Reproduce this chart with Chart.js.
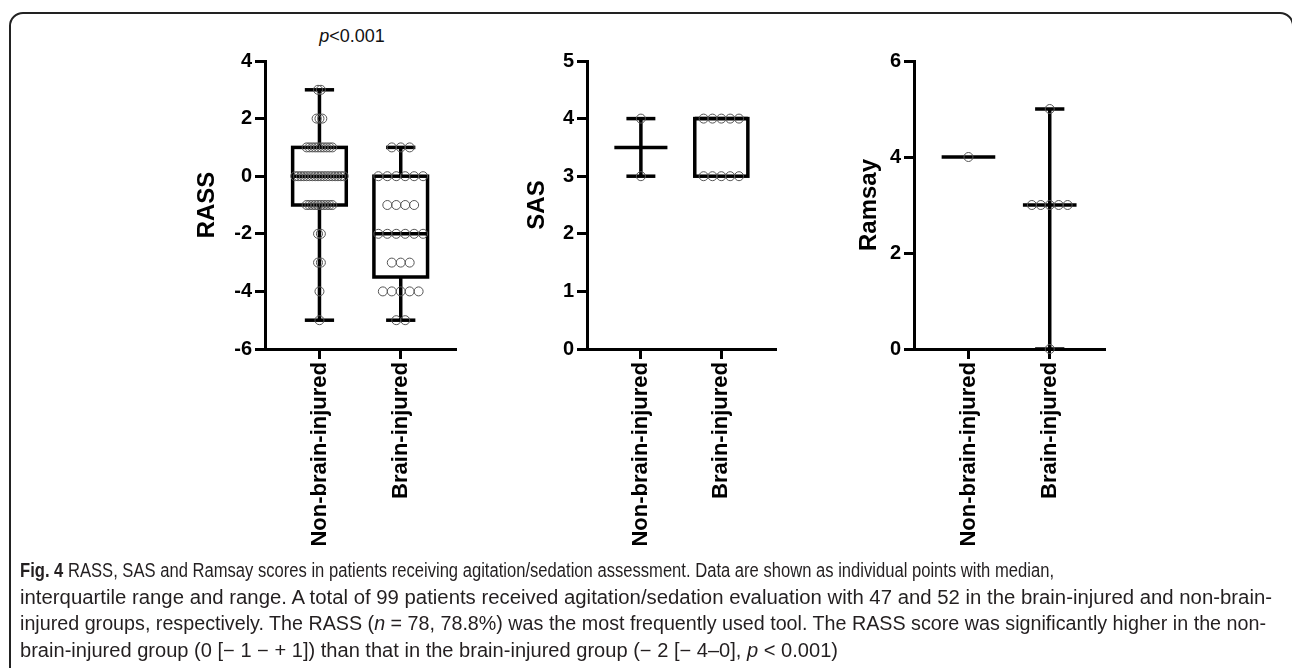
<!DOCTYPE html>
<html>
<head>
<meta charset="utf-8">
<script src="https://cdn.jsdelivr.net/npm/chart.js@4.4.1/dist/chart.umd.min.js"></script>
<style>
  html, body { margin: 0; padding: 0; background: #fff; }
  body { width: 1292px; height: 668px; overflow: hidden; position: relative; font-family: "Liberation Sans", Arial, sans-serif; }
  .frame { position: absolute; left: 9px; top: 12px; width: 1285px; height: 720px; border: 2px solid #222; border-radius: 14px; box-sizing: border-box; }
  canvas { position: absolute; top: 40px; }
  .pval { position: absolute; left: 302px; width: 100px; top: 26px; text-align: center; font-size: 18px; color: #111; }
  .caption { position: absolute; left: 20px; top: 557px; font-family: "Liberation Sans", Arial, sans-serif; font-size: 19.5px; line-height: 26.5px; color: #231f20; }
  .caption div { white-space: nowrap; transform-origin: 0 0; width: max-content; }
</style>
</head>
<body>
<div class="frame"></div>
<div class="pval"><i>p</i>&lt;0.001</div>
<canvas id="rass" width="330" height="530" style="left:150px"></canvas>
<canvas id="sas" width="330" height="530" style="left:470px"></canvas>
<canvas id="ramsay" width="340" height="530" style="left:790px"></canvas>
<div class="caption" id="caption">
<div data-w="1034"><b>Fig. 4</b> RASS, SAS and Ramsay scores in patients receiving agitation/sedation assessment. Data are shown as individual points with median,</div>
<div data-w="1252">interquartile range and range. A total of 99 patients received agitation/sedation evaluation with 47 and 52 in the brain-injured and non-brain-</div>
<div data-w="1246">injured groups, respectively. The RASS (<i>n</i> = 78, 78.8%) was the most frequently used tool. The RASS score was significantly higher in the non-</div>
<div data-w="818">brain-injured group (0 [− 1 − + 1]) than that in the brain-injured group (− 2 [− 4–0], <i>p</i> &lt; 0.001)</div>
</div>
<script>
const groups = ['Non-brain-injured', 'Brain-injured'];

// RASS
const rassNonBrain = [3, 3, 2, 2, 2, 1, 1, 1, 1, 1, 1, 1, 1, 1, 1,
  0, 0, 0, 0, 0, 0, 0, 0, 0, 0, 0, 0, 0, 0, 0, 0, 0, 0,
  -1, -1, -1, -1, -1, -1, -1, -1, -1, -1, -2, -2, -3, -3, -4, -5];
const rassBrain = [1, 1, 1, 0, 0, 0, 0, 0, 0, -1, -1, -1, -1,
  -2, -2, -2, -2, -2, -2, -3, -3, -3, -4, -4, -4, -4, -4, -5, -5];
const rassMin = [-5, -5];
const rassQ1 = [-1, -3.5];
const rassMedian = [0, -2];
const rassQ3 = [1, 0];
const rassMax = [3, 1];
const rassTicks = [-6, -4, -2, 0, 2, 4];

// SAS
const sasNonBrain = [4, 3];
const sasBrain = [4, 4, 4, 4, 4, 3, 3, 3, 3, 3];
const sasMin = [3, 3];
const sasQ1 = [3.5, 3];
const sasMedian = [3.5, 4];
const sasQ3 = [3.5, 4];
const sasMax = [4, 4];
const sasTicks = [0, 1, 2, 3, 4, 5];

// Ramsay
const ramsayNonBrain = [4];
const ramsayBrain = [5, 3, 3, 3, 3, 3, 0];
const ramsayMin = [4, 0];
const ramsayQ1 = [4, 3];
const ramsayMedian = [4, 3];
const ramsayQ3 = [4, 3];
const ramsayMax = [4, 5];
const ramsayTicks = [0, 2, 4, 6];

const FONT = '"Liberation Sans", Arial, sans-serif';
const BOX_HALF = 0.33;
const CAP_HALF = 0.18;

// squeeze each caption line to the condensed width of the original
document.querySelectorAll('#caption div').forEach(el => {
  el.style.transform = 'scaleX(' + (+el.dataset.w / el.getBoundingClientRect().width) + ')';
});

// spread equal values side by side like a column scatter
function swarm(values, gi, step) {
  const counts = {};
  values.forEach(v => { counts[v] = (counts[v] || 0) + 1; });
  const seen = {};
  return values.map(v => {
    seen[v] = (seen[v] === undefined ? 0 : seen[v] + 1);
    return { x: gi + (seen[v] - (counts[v] - 1) / 2) * step, y: v };
  });
}

function boxPlugin(s) {
  return {
    id: 'boxes',
    beforeDatasetsDraw(chart) {
      const { ctx, scales: { x, y } } = chart;
      const line = (x1, y1, x2, y2) => { ctx.beginPath(); ctx.moveTo(x1, y1); ctx.lineTo(x2, y2); ctx.stroke(); };
      ctx.save();
      ctx.strokeStyle = '#000';
      ctx.lineWidth = 3.5;
      groups.forEach((g, i) => {
        const xc = x.getPixelForValue(i);
        const xl = x.getPixelForValue(i - BOX_HALF), xr = x.getPixelForValue(i + BOX_HALF);
        const cl = x.getPixelForValue(i - CAP_HALF), cr = x.getPixelForValue(i + CAP_HALF);
        const yMin = y.getPixelForValue(s.min[i]), yMax = y.getPixelForValue(s.max[i]);
        const yQ1 = y.getPixelForValue(s.q1[i]), yQ3 = y.getPixelForValue(s.q3[i]);
        const yMed = y.getPixelForValue(s.median[i]);
        if (yMax < yQ3) { line(xc, yMax, xc, yQ3); line(cl, yMax, cr, yMax); }
        if (yMin > yQ1) { line(xc, yQ1, xc, yMin); line(cl, yMin, cr, yMin); }
        if (yQ1 > yQ3) ctx.strokeRect(xl, yQ3, xr - xl, yQ1 - yQ3);
        line(xl, yMed, xr, yMed);
      });
      ctx.restore();
    }
  };
}

function panel(id, o) {
  return new Chart(document.getElementById(id), {
    type: 'scatter',
    data: {
      datasets: o.points.map((vals, i) => ({
        data: swarm(vals, i, o.steps[i]),
        pointRadius: 4.5,
        pointHoverRadius: 4.5,
        borderColor: '#555',
        borderWidth: 1,
        backgroundColor: 'rgba(0,0,0,0)',
        clip: false
      }))
    },
    options: {
      responsive: false,
      animation: false,
      events: [],
      layout: { padding: { left: 0, top: 21, right: o.right, bottom: 0 } },
      plugins: { legend: { display: false }, tooltip: { enabled: false } },
      scales: {
        x: {
          type: 'linear',
          min: -0.67,
          max: 1.68,
          afterBuildTicks: sc => { sc.ticks = groups.map((g, i) => ({ value: i })); },
          afterFit: sc => { sc.height = 221; },
          grid: { display: true, drawOnChartArea: false, drawTicks: true, tickLength: 10, tickWidth: 3, tickColor: '#000' },
          border: { display: true, width: 3, color: '#000' },
          ticks: {
            autoSkip: false, maxRotation: 90, minRotation: 90, padding: 3, color: '#000',
            font: { family: FONT, size: 22, weight: 'bold' },
            callback: v => groups[v]
          }
        },
        y: {
          min: o.ticks[0],
          max: o.ticks[o.ticks.length - 1],
          afterBuildTicks: sc => { sc.ticks = o.ticks.map(v => ({ value: v })); },
          afterFit: sc => { sc.width = o.yWidth; },
          title: {
            display: true, text: o.title, color: '#000',
            padding: { top: o.titlePad, bottom: 0 },
            font: { family: FONT, size: 24, weight: 'bold' }
          },
          grid: { display: true, drawOnChartArea: false, drawTicks: true, tickLength: 10, tickWidth: 3, tickColor: '#000' },
          border: { display: true, width: 3, color: '#000' },
          ticks: { padding: 3, color: '#000', font: { family: FONT, size: 20, weight: 'bold' } }
        }
      }
    },
    plugins: [boxPlugin(o.stats)]
  });
}

panel('rass', {
  points: [rassNonBrain, rassBrain], steps: [0.035, 0.11],
  stats: { min: rassMin, q1: rassQ1, median: rassMedian, q3: rassQ3, max: rassMax },
  ticks: rassTicks, title: 'RASS', yWidth: 115, titlePad: 43, right: 24
});
panel('sas', {
  points: [sasNonBrain, sasBrain], steps: [0.11, 0.11],
  stats: { min: sasMin, q1: sasQ1, median: sasMedian, q3: sasQ3, max: sasMax },
  ticks: sasTicks, title: 'SAS', yWidth: 117, titlePad: 53, right: 24
});
panel('ramsay', {
  points: [ramsayNonBrain, ramsayBrain], steps: [0.11, 0.11],
  stats: { min: ramsayMin, q1: ramsayQ1, median: ramsayMedian, q3: ramsayQ3, max: ramsayMax },
  ticks: ramsayTicks, title: 'Ramsay', yWidth: 124, titlePad: 65, right: 25
});
</script>
</body>
</html>
